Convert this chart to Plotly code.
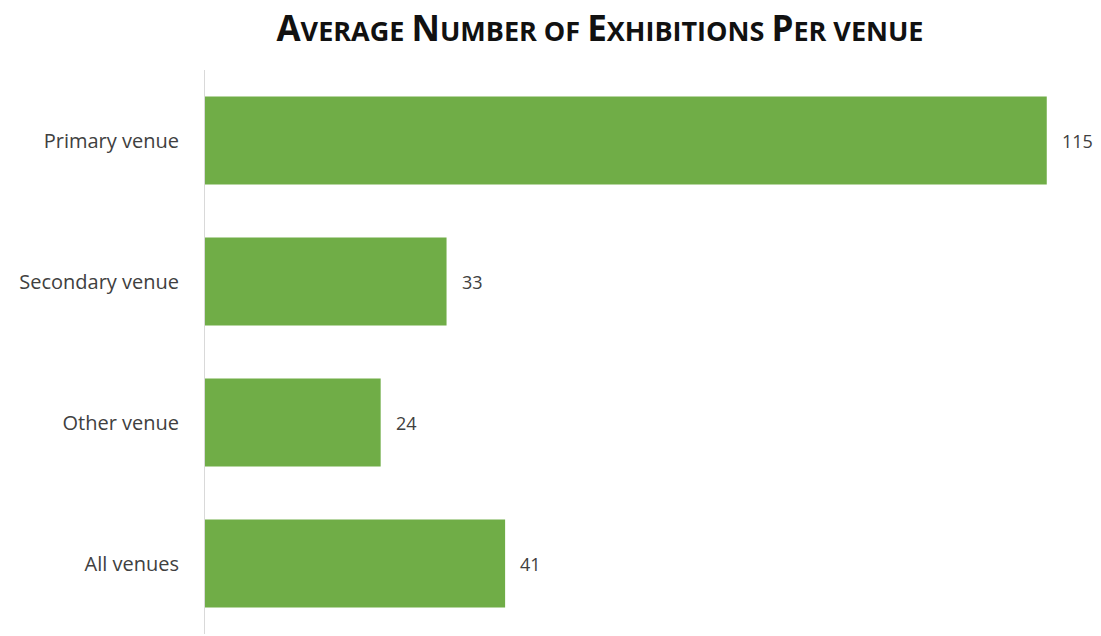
import plotly.graph_objects as go

categories = ["Primary venue", "Secondary venue", "Other venue", "All venues"]
values = [115, 33, 24, 41]

BAR = "#70AD47"
TXT = "#404040"
FONT = "Open Sans, Lato, sans-serif"

fig = go.Figure()
fig.add_trace(go.Bar(
    y=categories, x=values, orientation="h",
    marker=dict(color=BAR, line=dict(width=0)),
    hoverinfo="skip",
))

for c, v in zip(categories, values):
    fig.add_annotation(x=v, y=c, text=str(v), showarrow=False,
                       xanchor="left", xshift=13,
                       font=dict(family=FONT, size=18, color=TXT))

big = 35
small = 27
def sc(word):
    return f"<span style='font-size:{big}px'>{word[0]}</span>{word[1:]}"

title = (sc("AVERAGE") + " " + sc("NUMBER") + " OF " + sc("EXHIBITIONS") + " " +
         sc("PER") + " VENUE")

fig.update_layout(
    width=1093, height=628,
    paper_bgcolor="white", plot_bgcolor="white",
    margin=dict(l=197, r=3, t=62, b=2),
    bargap=0.376,
    showlegend=False,
    title=dict(text="<b>" + title + "</b>", x=0.5416, xanchor="center",
               y=1 - 24 / 628, yanchor="middle",
               font=dict(family=FONT, size=small, color="#111111")),
    xaxis=dict(range=[0, 122], visible=False, showgrid=False, zeroline=False),
    yaxis=dict(categoryorder="array", categoryarray=categories[::-1],
               showline=True, linecolor="#d9d9d9", linewidth=1,
               showgrid=False, ticks="", ticklabelstandoff=21,
               tickfont=dict(family=FONT, size=20, color=TXT)),
)

fig.write_html("out.html")
